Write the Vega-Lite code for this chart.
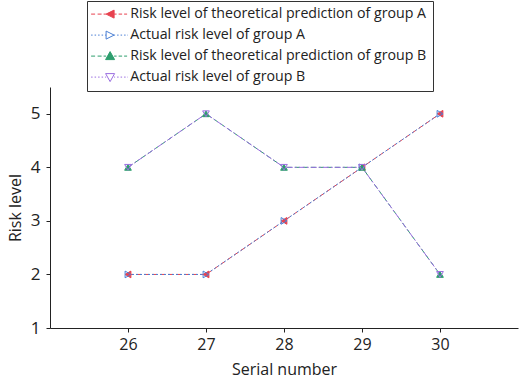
{
  "$schema": "https://vega.github.io/schema/vega-lite/v6.json",
  "width": 468,
  "height": 241,
  "autosize": {"type": "none"},
  "padding": {"left": 50, "top": 87, "right": 2, "bottom": 54},
  "background": "white",
  "config": {
    "view": {"stroke": null},
    "font": "Open Sans",
    "axis": {
      "domainColor": "#222",
      "tickColor": "#222",
      "labelColor": "#222",
      "titleColor": "#222",
      "grid": false,
      "labelFont": "Open Sans",
      "titleFont": "Open Sans",
      "titleFontWeight": "normal"
    }
  },
  "data": {
    "values": [
      {"serial": 26, "level": 2, "series": "Risk level of theoretical prediction of group A"},
      {"serial": 27, "level": 2, "series": "Risk level of theoretical prediction of group A"},
      {"serial": 28, "level": 3, "series": "Risk level of theoretical prediction of group A"},
      {"serial": 29, "level": 4, "series": "Risk level of theoretical prediction of group A"},
      {"serial": 30, "level": 5, "series": "Risk level of theoretical prediction of group A"},
      {"serial": 26, "level": 2, "series": "Actual risk level of group A"},
      {"serial": 27, "level": 2, "series": "Actual risk level of group A"},
      {"serial": 28, "level": 3, "series": "Actual risk level of group A"},
      {"serial": 29, "level": 4, "series": "Actual risk level of group A"},
      {"serial": 30, "level": 5, "series": "Actual risk level of group A"},
      {"serial": 26, "level": 4, "series": "Risk level of theoretical prediction of group B"},
      {"serial": 27, "level": 5, "series": "Risk level of theoretical prediction of group B"},
      {"serial": 28, "level": 4, "series": "Risk level of theoretical prediction of group B"},
      {"serial": 29, "level": 4, "series": "Risk level of theoretical prediction of group B"},
      {"serial": 30, "level": 2, "series": "Risk level of theoretical prediction of group B"},
      {"serial": 26, "level": 4, "series": "Actual risk level of group B"},
      {"serial": 27, "level": 5, "series": "Actual risk level of group B"},
      {"serial": 28, "level": 4, "series": "Actual risk level of group B"},
      {"serial": 29, "level": 4, "series": "Actual risk level of group B"},
      {"serial": 30, "level": 2, "series": "Actual risk level of group B"}
    ]
  },
  "encoding": {
    "x": {
      "field": "serial",
      "type": "quantitative",
      "scale": {"domain": [25, 31], "nice": false, "zero": false},
      "axis": {
        "title": "Serial number",
        "values": [26, 27, 28, 29, 30],
        "labelFontSize": 16,
        "titleFontSize": 16,
        "tickSize": 4,
        "labelPadding": 4,
        "titlePadding": 9
      }
    },
    "y": {
      "field": "level",
      "type": "quantitative",
      "scale": {"domain": [1, 5.5], "nice": false, "zero": false},
      "axis": {
        "title": "Risk level",
        "values": [1, 2, 3, 4, 5],
        "labelFontSize": 17,
        "titleFontSize": 16,
        "tickSize": 4,
        "labelPadding": 6,
        "titlePadding": 7
      }
    }
  },
  "resolve": {"scale": {"stroke": "independent", "shape": "independent", "fill": "independent"}},
  "layer": [
    {
      "mark": {"type": "line", "strokeWidth": 1},
      "encoding": {
        "detail": {"field": "series"},
        "stroke": {
          "field": "series",
          "type": "nominal",
          "scale": {
            "domain": [
              "Risk level of theoretical prediction of group A",
              "Actual risk level of group A",
              "Risk level of theoretical prediction of group B",
              "Actual risk level of group B"
            ],
            "range": ["#e8424f", "#4a7fd4", "#2e9e6e", "#9a6ee0"]
          },
          "legend": null
        },
        "strokeDash": {
          "field": "series",
          "type": "nominal",
          "scale": {
            "domain": [
              "Risk level of theoretical prediction of group A",
              "Actual risk level of group A",
              "Risk level of theoretical prediction of group B",
              "Actual risk level of group B"
            ],
            "range": [[5, 3], [2, 2], [5, 3], [6, 2, 2, 2]]
          },
          "legend": null
        }
      }
    },
    {
      "mark": {"type": "point", "size": 45, "strokeWidth": 1, "opacity": 1},
      "encoding": {
        "shape": {
          "field": "series",
          "type": "nominal",
          "scale": {
            "domain": [
              "Risk level of theoretical prediction of group A",
              "Actual risk level of group A",
              "Risk level of theoretical prediction of group B",
              "Actual risk level of group B"
            ],
            "range": ["triangle-left", "triangle-right", "triangle-up", "triangle-down"]
          },
          "legend": null
        },
        "stroke": {
          "field": "series",
          "type": "nominal",
          "scale": {
            "domain": [
              "Risk level of theoretical prediction of group A",
              "Actual risk level of group A",
              "Risk level of theoretical prediction of group B",
              "Actual risk level of group B"
            ],
            "range": ["#e8424f", "#4a7fd4", "#2e9e6e", "#9a6ee0"]
          },
          "legend": null
        },
        "fill": {
          "field": "series",
          "type": "nominal",
          "scale": {
            "domain": [
              "Risk level of theoretical prediction of group A",
              "Actual risk level of group A",
              "Risk level of theoretical prediction of group B",
              "Actual risk level of group B"
            ],
            "range": ["#e8424f", "transparent", "#2e9e6e", "transparent"]
          },
          "legend": null
        }
      }
    },
    {
      "transform": [{"filter": "false"}],
      "mark": {"type": "point", "size": 100, "strokeWidth": 1, "opacity": 1},
      "encoding": {
        "shape": {
          "field": "series",
          "type": "nominal",
          "scale": {
            "domain": [
              "Risk level of theoretical prediction of group A",
              "Actual risk level of group A",
              "Risk level of theoretical prediction of group B",
              "Actual risk level of group B"
            ],
            "range": [
              "M-1.8,0L-1,0M-0.5,0L0.3,0M0.7,0L1.2,0M2.8,0L3.3,0M3.7,0L4.4,0M4.8,0L5.4,0M1.2,0L2.8,-0.8L2.8,0.8Z",
              "M-1.8,0L-1.5,0M-1.1,0L-0.8,0M-0.4,0L-0.1,0M0.3,0L0.6,0M1,0L1.2,0M2.8,0L3,0M3.4,0L3.7,0M4.1,0L4.4,0M4.8,0L5.1,0M5.4,0L5.5,0M2.8,0L1.2,-0.8L1.2,0.8Z",
              "M-1.8,0L-1,0M-0.5,0L0.3,0M0.7,0L1.2,0M2.8,0L3.3,0M3.7,0L4.4,0M4.8,0L5.4,0M2,-0.9L2.9,0.7L1.1,0.7Z",
              "M-1.8,0L-1.5,0M-1.1,0L-0.8,0M-0.4,0L-0.1,0M0.3,0L0.6,0M1,0L1.2,0M2.8,0L3,0M3.4,0L3.7,0M4.1,0L4.4,0M4.8,0L5.1,0M5.4,0L5.5,0M2,0.9L2.9,-0.7L1.1,-0.7Z"
            ]
          },
          "legend": {
            "title": null,
            "orient": "none",
            "legendX": 37,
            "legendY": -86,
            "strokeColor": "#333",
            "padding": 6,
            "symbolSize": 100,
            "symbolStrokeWidth": 1,
            "labelOffset": 23,
            "labelFont": "Open Sans",
            "labelFontSize": 14.2,
            "labelColor": "#222",
            "labelLimit": 0,
            "rowPadding": 6
          }
        },
        "stroke": {
          "field": "series",
          "type": "nominal",
          "scale": {
            "domain": [
              "Risk level of theoretical prediction of group A",
              "Actual risk level of group A",
              "Risk level of theoretical prediction of group B",
              "Actual risk level of group B"
            ],
            "range": ["#e8424f", "#4a7fd4", "#2e9e6e", "#9a6ee0"]
          }
        },
        "fill": {
          "field": "series",
          "type": "nominal",
          "scale": {
            "domain": [
              "Risk level of theoretical prediction of group A",
              "Actual risk level of group A",
              "Risk level of theoretical prediction of group B",
              "Actual risk level of group B"
            ],
            "range": ["#e8424f", "transparent", "#2e9e6e", "transparent"]
          }
        }
      }
    }
  ]
}
